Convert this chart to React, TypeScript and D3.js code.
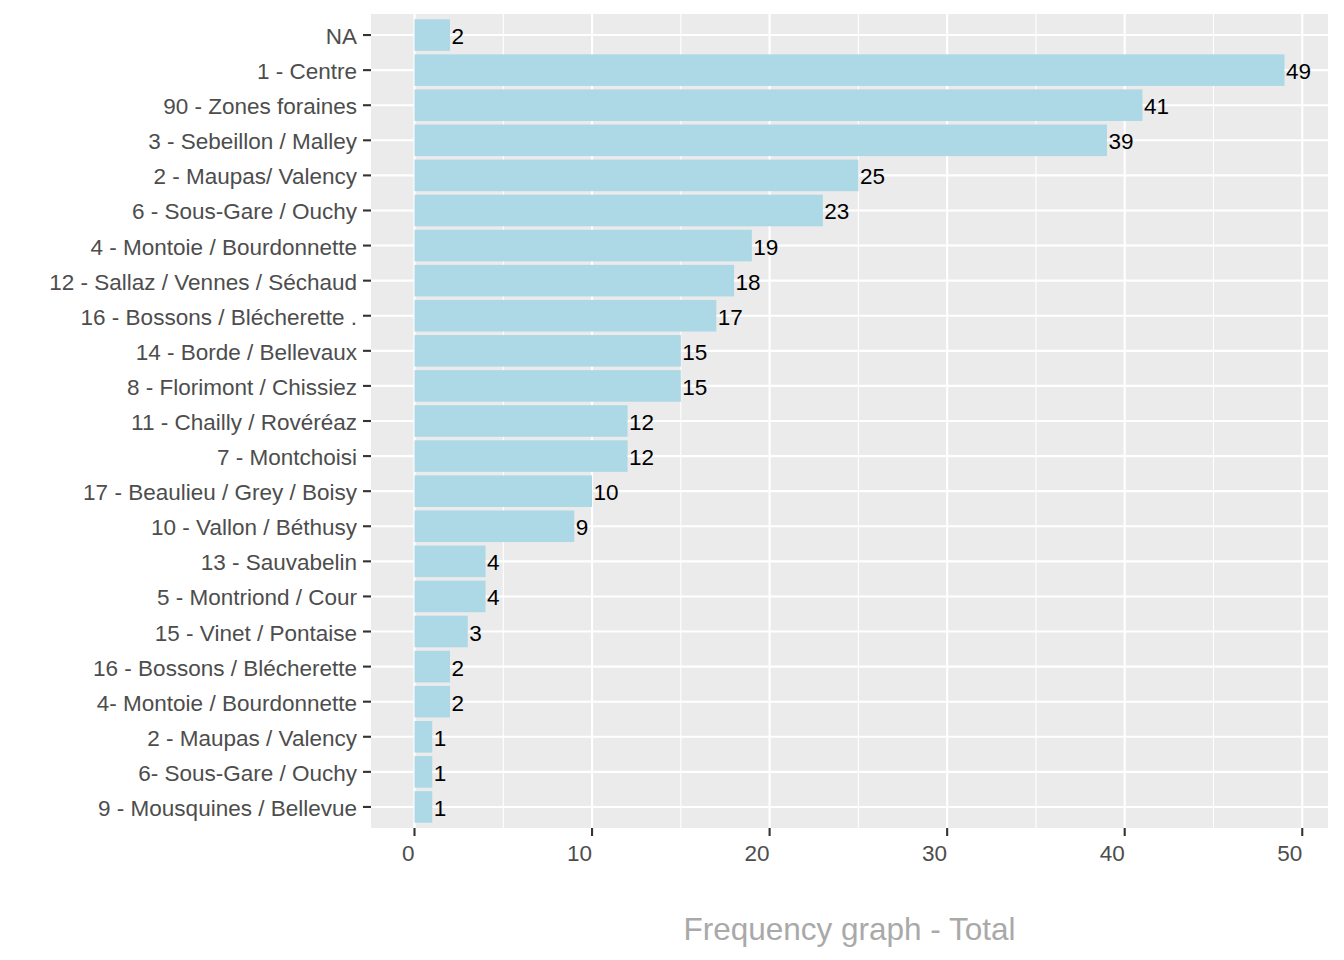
import React from "react";
import * as d3 from "d3";

const categories: string[] = [
  "NA",
  "1 - Centre",
  "90 - Zones foraines",
  "3 - Sebeillon / Malley",
  "2 - Maupas/ Valency",
  "6 - Sous-Gare / Ouchy",
  "4 - Montoie / Bourdonnette",
  "12 - Sallaz / Vennes / Séchaud",
  "16 - Bossons / Blécherette .",
  "14 - Borde / Bellevaux",
  "8 - Florimont / Chissiez",
  "11 - Chailly / Rovéréaz",
  "7 - Montchoisi",
  "17 - Beaulieu / Grey / Boisy",
  "10 - Vallon / Béthusy",
  "13 - Sauvabelin",
  "5 - Montriond / Cour",
  "15 - Vinet / Pontaise",
  "16 - Bossons / Blécherette",
  "4- Montoie / Bourdonnette",
  "2 - Maupas / Valency",
  "6- Sous-Gare / Ouchy",
  "9 - Mousquines / Bellevue",
];
const counts: number[] = [2, 49, 41, 39, 25, 23, 19, 18, 17, 15, 15, 12, 12, 10, 9, 4, 4, 3, 2, 2, 1, 1, 1];
const majorTicks: number[] = [0, 10, 20, 30, 40, 50];
const minorTicks: number[] = [5, 15, 25, 35, 45];
const axisTitle = "Frequency graph - Total";

const W = 1344;
const H = 960;
const panel = { left: 371, right: 1328, top: 14, bottom: 828 };
const FONT = "'Liberation Sans', Arial, sans-serif";

export default function App() {
  const maxV = d3.max(counts) as number;
  const expand = maxV * 0.05;
  const x = d3.scaleLinear().domain([-expand, maxV + expand]).range([panel.left, panel.right]);
  const n = categories.length;
  const step = (panel.bottom - panel.top) / (n - 1 + 1.2);
  const yCenter = (i: number) => panel.top + step * (0.6 + i);
  const bandH = step * 0.9;

  return (
    <div style={{ position: "absolute", left: 0, top: 0 }}>
      <svg width={W} height={H} style={{ display: "block", background: "#fff" }} fontFamily={FONT}>
        <rect x={panel.left} y={panel.top} width={panel.right - panel.left} height={panel.bottom - panel.top} fill="#EBEBEB" />
        {minorTicks.map((t) => (
          <line key={"mi" + t} x1={x(t)} x2={x(t)} y1={panel.top} y2={panel.bottom} stroke="#fff" strokeWidth={1.1} />
        ))}
        {majorTicks.map((t) => (
          <line key={"ma" + t} x1={x(t)} x2={x(t)} y1={panel.top} y2={panel.bottom} stroke="#fff" strokeWidth={2.1} />
        ))}
        {categories.map((c, i) => (
          <line key={"hg" + i} x1={panel.left} x2={panel.right} y1={yCenter(i)} y2={yCenter(i)} stroke="#fff" strokeWidth={2.1} />
        ))}
        {categories.map((c, i) => (
          <rect
            key={"b" + i}
            x={x(0)}
            y={yCenter(i) - bandH / 2}
            width={x(counts[i]) - x(0)}
            height={bandH}
            fill="#ADD8E6"
          />
        ))}
        {categories.map((c, i) => (
          <text key={"v" + i} x={x(counts[i]) + 1.5} y={yCenter(i)} dy="0.4em" fontSize={22.5} fill="#000">
            {counts[i]}
          </text>
        ))}
        {categories.map((c, i) => (
          <g key={"yt" + i}>
            <line x1={panel.left - 8} x2={panel.left} y1={yCenter(i)} y2={yCenter(i)} stroke="#333" strokeWidth={2.1} />
            <text x={panel.left - 14} y={yCenter(i)} dy="0.4em" textAnchor="end" fontSize={22.5} fill="#4D4D4D">
              {c}
            </text>
          </g>
        ))}
        {majorTicks.map((t) => (
          <g key={"xt" + t}>
            <line x1={x(t)} x2={x(t)} y1={panel.bottom} y2={panel.bottom + 8} stroke="#333" strokeWidth={2.1} />
            <text x={x(t)} y={panel.bottom + 25} dy="0.36em" textAnchor="end" fontSize={22.5} fill="#4D4D4D">
              {t}
            </text>
          </g>
        ))}
        <text x={(panel.left + panel.right) / 2} y={940} textAnchor="middle" fontSize={31.5} fill="#A9A9A9">
          {axisTitle}
        </text>
      </svg>
    </div>
  );
}
